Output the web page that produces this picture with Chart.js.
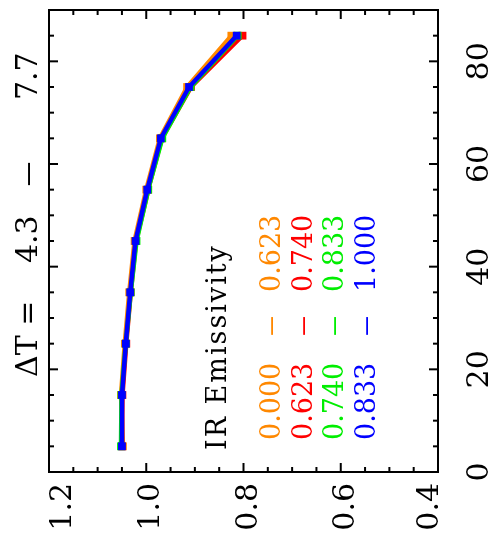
<!DOCTYPE html>
<html>
<head>
<meta charset="utf-8">
<script src="https://cdn.jsdelivr.net/npm/chart.js@4.4.0/dist/chart.umd.min.js"></script>
<style>
  html, body { margin: 0; padding: 0; background: #fff; overflow: hidden; }
  #wrap {
    position: absolute; left: 0; top: 0; width: 550px; height: 490px;
    transform-origin: 0 0;
    transform: translate(0, 550px) rotate(-90deg);
  }
</style>
</head>
<body>
<div id="wrap"><canvas id="myChart" width="550" height="490"></canvas></div>
<script>
// bin centres along the horizontal axis
const bins = [5, 15, 25, 35, 45, 55, 65, 75, 85];

// one series per IR emissivity class
const orangeVals = [1.048, 1.052, 1.044, 1.035, 1.024, 1.000, 0.972, 0.916, 0.825];
const redVals    = [1.050, 1.049, 1.041, 1.032, 1.021, 0.996, 0.968, 0.908, 0.802];
const greenVals  = [1.052, 1.051, 1.042, 1.032, 1.020, 0.996, 0.967, 0.909, 0.812];
const blueVals   = [1.050, 1.050, 1.042, 1.033, 1.022, 0.998, 0.970, 0.912, 0.814];

const emisLow  = ['0.000', '0.623', '0.740', '0.833'];
const emisHigh = ['0.623', '0.740', '0.833', '1.000'];
const colors = ['#ff8800', '#ff0000', '#00ee00', '#0000ff'];

const valueTicks = [0.4, 0.6, 0.8, 1.0, 1.2];
const titleParts = ['ΔT =', '4.3', '–', '7.7'];
const legendTitle = 'IR Emissivity';

const serif = '"DejaVu Serif", serif';

const makeSet = (vals, i) => ({
  label: emisLow[i] + ' – ' + emisHigh[i],
  data: bins.map((b, k) => ({ x: b, y: vals[k] })),
  borderColor: colors[i],
  backgroundColor: colors[i],
  pointBackgroundColor: colors[i],
  pointBorderWidth: 0,
  pointStyle: 'rect',
  pointRadius: 5.5,
  borderWidth: 4.5,
  tension: 0,
  order: 3 - i
});

// a long thin dash, like the plotting font's minus
const drawDash = (ctx, cx, by, size, stretch) => {
  ctx.save();
  ctx.translate(cx, by);
  ctx.scale(stretch, 1);
  ctx.textAlign = 'center';
  ctx.font = size + 'px ' + serif;
  ctx.fillText('–', 0, 0);
  ctx.restore();
};

const framePlugin = {
  id: 'framePlugin',
  afterDraw(chart) {
    const { ctx, chartArea: a, scales: { x, y } } = chart;
    ctx.save();
    ctx.strokeStyle = '#000';
    ctx.lineWidth = 2;
    ctx.strokeRect(a.left, a.top, a.right - a.left, a.bottom - a.top);

    const seg = (x1, y1, x2, y2) => {
      ctx.beginPath(); ctx.moveTo(x1, y1); ctx.lineTo(x2, y2); ctx.stroke();
    };
    // inward ticks on all four sides
    for (let v = 0; v <= 90; v += 5) {
      const px = x.getPixelForValue(v);
      const len = v % 20 === 0 ? 9 : 5;
      seg(px, a.bottom, px, a.bottom - len);
      seg(px, a.top, px, a.top + len);
    }
    for (let i = 0; i <= 16; i++) {
      const py = y.getPixelForValue(0.4 + i * 0.05);
      const len = i % 4 === 0 ? 9 : 5;
      seg(a.left, py, a.left + len, py);
      seg(a.right, py, a.right - len, py);
    }

    // value labels, kept inside the axis span
    ctx.fillStyle = '#000';
    ctx.font = '30px ' + serif;
    ctx.textAlign = 'right';
    ctx.textBaseline = 'alphabetic';
    valueTicks.forEach(t => {
      let c = y.getPixelForValue(t) + 2;
      c = Math.min(Math.max(c, a.top + 11), a.bottom - 11);
      ctx.fillText(t.toFixed(1), a.left - 11, c + 11);
    });

    // title
    ctx.textAlign = 'left';
    const tOff = [95, 209, 298, 372];
    titleParts.forEach((t, i) => {
      if (t === '–') {
        drawDash(ctx, a.left + tOff[i], a.top - 12, 30, 1.8);
      } else {
        ctx.font = '30px ' + serif;
        ctx.fillText(t, a.left + tOff[i], a.top - 12);
      }
    });

    // legend
    ctx.font = '27px ' + serif;
    ctx.letterSpacing = '2px';
    ctx.fillText(legendTitle, a.left + 22, a.top + 177);
    ctx.letterSpacing = '0px';
    emisLow.forEach((lo, i) => {
      const by = a.top + 231 + i * 31.5;
      ctx.fillStyle = colors[i];
      ctx.textAlign = 'left';
      ctx.font = '27px ' + serif;
      ctx.fillText(lo, a.left + 32, by);
      ctx.fillText(emisHigh[i], a.left + 180, by);
      drawDash(ctx, a.left + 146, by, 27, 1.6);
    });
    ctx.restore();
  }
};

const ctx = document.getElementById('myChart').getContext('2d');
new Chart(ctx, {
  type: 'line',
  data: {
    datasets: [
      makeSet(orangeVals, 0),
      makeSet(redVals, 1),
      makeSet(greenVals, 2),
      makeSet(blueVals, 3)
    ]
  },
  options: {
    responsive: false,
    animation: false,
    layout: { padding: { top: 49, right: 10, left: 0, bottom: 0 } },
    plugins: {
      legend: { display: false },
      title: { display: false },
      tooltip: { enabled: false }
    },
    scales: {
      x: {
        type: 'linear',
        min: 0,
        max: 90,
        grid: { display: false, drawTicks: false },
        border: { display: false },
        ticks: {
          stepSize: 20,
          includeBounds: false,
          padding: 24,
          maxRotation: 0,
          color: '#000',
          font: { family: serif, size: 30 }
        },
        afterFit: s => { s.height = 52; }
      },
      y: {
        type: 'linear',
        min: 0.4,
        max: 1.2,
        grid: { display: false, drawTicks: false },
        border: { display: false },
        ticks: { display: false },
        afterFit: s => { s.width = 78; }
      }
    }
  },
  plugins: [framePlugin]
});
</script>
</body>
</html>
